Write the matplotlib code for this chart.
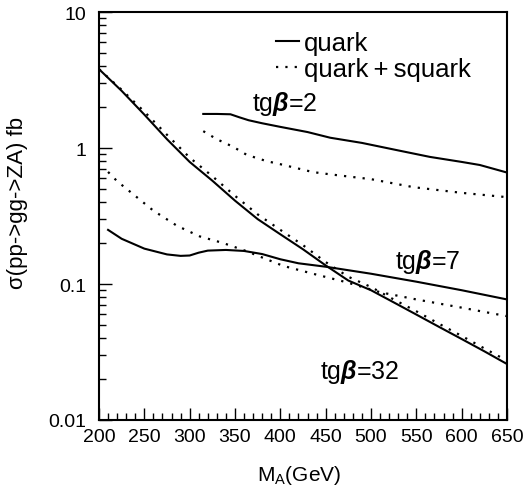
import matplotlib
matplotlib.use("Agg")
import matplotlib.pyplot as plt
from matplotlib.ticker import FixedLocator, MultipleLocator, LogLocator, NullFormatter

plt.rcParams["font.family"] = ["Liberation Sans", "DejaVu Sans"]
plt.rcParams["mathtext.fontset"] = "custom"
plt.rcParams["mathtext.rm"] = "Liberation Sans"
plt.rcParams["mathtext.it"] = "Liberation Sans:italic:bold"

# tg(beta) = 32
m32 = [200, 225, 250, 275, 300, 325, 350, 375, 400, 425, 450, 475, 500, 525, 550, 575, 600, 625, 650]
q32 = [3.80, 2.63, 1.76, 1.16, 0.79, 0.575, 0.41, 0.30, 0.232, 0.180, 0.137, 0.106, 0.090,
       0.0733, 0.0596, 0.0484, 0.0394, 0.032, 0.0258]
qs32 = [3.80, 2.68, 1.85, 1.25, 0.85, 0.62, 0.445, 0.325, 0.25, 0.193, 0.145, 0.113, 0.095,
        0.077, 0.063, 0.051, 0.0415, 0.0336, 0.0273]

# tg(beta) = 7
m7 = [210, 225, 250, 275, 290, 300, 310, 320, 340, 360, 380, 400, 420, 450, 500, 550, 600, 650]
q7 = [0.25, 0.215, 0.182, 0.165, 0.161, 0.162, 0.170, 0.176, 0.178, 0.175, 0.166, 0.152,
      0.142, 0.134, 0.119, 0.104, 0.090, 0.077]
m7s = [210, 220, 236, 260, 286, 311, 337, 362, 403, 436, 473, 510, 550, 600, 650]
qs7 = [0.667, 0.57, 0.467, 0.346, 0.268, 0.224, 0.200, 0.175, 0.136, 0.119, 0.103, 0.087,
       0.077, 0.067, 0.058]

# tg(beta) = 2
m2 = [315, 330, 345, 355, 365, 380, 400, 430, 455, 490, 530, 565, 600, 620, 650]
q2 = [1.78, 1.78, 1.77, 1.68, 1.60, 1.52, 1.43, 1.31, 1.19, 1.09, 0.96, 0.86, 0.79, 0.75, 0.66]
m2s = [315, 330, 348, 363, 385, 400, 436, 455, 500, 547, 600, 650]
qs2 = [1.33, 1.16, 1.02, 0.89, 0.80, 0.76, 0.665, 0.64, 0.59, 0.515, 0.468, 0.435]

ytick_vals = [0.01, 0.1, 1, 10]
ytick_text = ["0.01", "0.1", "1", "10"]

DOT = (0, (1.0, 3.2))

fig = plt.figure(figsize=(5.25, 5.02), dpi=100)
ax = fig.add_axes([99 / 525, 81 / 502, 408 / 525, 408 / 502])

ax.plot(m32, q32, color="black", lw=1.5, label="quark")
ax.plot(m32, qs32, color="black", lw=1.6, ls=DOT, label="quark\u2009+\u2009squark")
ax.plot(m7, q7, color="black", lw=1.5)
ax.plot(m7s, qs7, color="black", lw=1.6, ls=DOT)
ax.plot(m2, q2, color="black", lw=1.5)
ax.plot(m2s, qs2, color="black", lw=1.6, ls=DOT)

ax.set_yscale("log")
ax.set_xlim(200, 650)
ax.set_ylim(0.01, 10)
ax.xaxis.set_major_locator(MultipleLocator(50))
ax.xaxis.set_minor_locator(MultipleLocator(10))
ax.yaxis.set_major_locator(FixedLocator(ytick_vals))
ax.set_yticklabels(ytick_text)
ax.yaxis.set_minor_locator(LogLocator(base=10, subs=range(2, 10)))
ax.yaxis.set_minor_formatter(NullFormatter())
ax.tick_params(which="both", direction="in", top=False, right=False, labelsize=14, width=1)
ax.tick_params(which="major", length=9)
ax.tick_params(which="minor", length=5)
ax.tick_params(axis="x", pad=6)
ax.tick_params(axis="y", pad=9)
for s in ax.spines.values():
    s.set_linewidth(1.5)

ax.set_ylabel("σ(pp->gg->ZA) fb", fontsize=16)
ax.yaxis.set_label_coords(-0.175, 0.535)
ax.set_xlabel(r"M$_{\rm A}$(GeV)", fontsize=15)
ax.xaxis.set_label_coords(0.49, -0.105)

ax.text(405, 2.14, r"tg$\beta$=2", fontsize=18, ha="center", va="center")
ax.text(563, 0.1476, r"tg$\beta$=7", fontsize=18, ha="center", va="center")
ax.text(488, 0.0229, r"tg$\beta$=32", fontsize=18, ha="center", va="center")

ax.legend(loc="upper left", bbox_to_anchor=(0.39, 0.998), frameon=False, fontsize=18.5,
          handlelength=0.9, handletextpad=0.2, labelspacing=0.1, borderpad=0.2)

fig.savefig("out.png", dpi=100)
